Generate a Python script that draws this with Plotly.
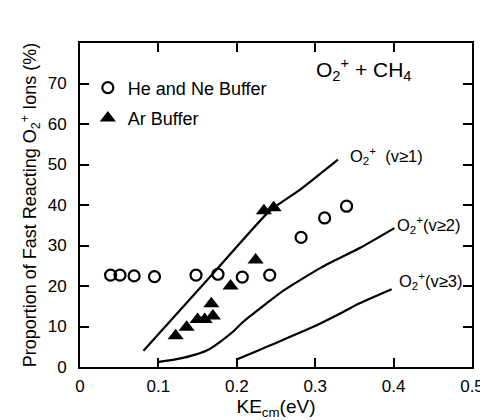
import plotly.graph_objects as go

# He and Ne buffer (open circles)
he_ne_x = [0.039, 0.051, 0.069, 0.095, 0.148, 0.176, 0.207, 0.242, 0.282, 0.312, 0.340]
he_ne_y = [22.7, 22.7, 22.5, 22.3, 22.7, 22.9, 22.2, 22.7, 32.0, 36.8, 39.7]

# Ar buffer (filled triangles)
ar_x = [0.122, 0.136, 0.150, 0.159, 0.1695, 0.1675, 0.192, 0.224, 0.2346, 0.247]
ar_y = [7.7, 9.8, 11.7, 11.7, 12.6, 15.6, 20.0, 26.4, 38.6, 39.3]

# Model curves
v1_x = [0.081, 0.172, 0.238, 0.252, 0.2795, 0.329]
v1_y = [4.0, 23.6, 37.8, 40.0, 43.6, 51.2]
v2_x = [0.099, 0.125, 0.147, 0.165, 0.180, 0.195, 0.209, 0.259, 0.308, 0.358, 0.401]
v2_y = [1.2, 2.0, 3.05, 4.4, 6.4, 8.7, 11.3, 18.8, 24.6, 29.5, 34.3]
v3_x = [0.199, 0.225, 0.250, 0.277, 0.304, 0.330, 0.354, 0.3975]
v3_y = [1.8, 3.9, 5.95, 8.2, 10.5, 13.0, 15.5, 19.2]

x_ticks = [0, 0.1, 0.2, 0.3, 0.4, 0.5]
x_tick_labels = ["0", "0.1", "0.2", "0.3", "0.4", "0.5"]
y_ticks = [0, 10, 20, 30, 40, 50, 60, 70]

FONT = "Liberation Sans, Arial, sans-serif"
O2P = "O<sub>2</sub><sup>+</sup>"

fig = go.Figure()
for cx, cy in [(v1_x, v1_y), (v2_x, v2_y), (v3_x, v3_y)]:
    fig.add_trace(go.Scatter(x=cx, y=cy, mode="lines", line=dict(color="black", width=2.2, shape="spline", smoothing=0.5),
                             showlegend=False, hoverinfo="skip"))
fig.add_trace(go.Scatter(x=he_ne_x, y=he_ne_y, mode="markers", name="He and Ne Buffer", legendgroup="a",
                         marker=dict(symbol="circle-open", size=11, color="black", line=dict(width=2.2, color="black"))))
fig.add_trace(go.Scatter(x=ar_x, y=ar_y, mode="markers", name="Ar Buffer", legendgroup="b",
                         marker=dict(symbol="triangle-up", size=14, color="black")))

annots = [
    dict(x=0.342, y=52.0, text=O2P + "  (v≥1)"),
    dict(x=0.402, y=35.0, text=O2P + "(v≥2)"),
    dict(x=0.404, y=21.3, text=O2P + "(v≥3)"),
]
for a in annots:
    fig.add_annotation(x=a["x"], y=a["y"], text=a["text"], showarrow=False, xanchor="left", yanchor="middle",
                       font=dict(family=FONT, size=16.5, color="black"))
fig.add_annotation(x=0.298, y=73.5, text=O2P + " + CH<sub>4</sub>", showarrow=False, xanchor="left",
                   yanchor="middle", font=dict(family=FONT, size=21, color="black"))

axis_common = dict(showline=True, linecolor="black", linewidth=2, mirror="ticks", ticks="inside",
                   ticklen=9, tickwidth=1.5, tickcolor="black", showgrid=False, zeroline=False,
                   tickfont=dict(family=FONT, size=17, color="black"))

fig.update_layout(
    width=488, height=420,
    margin=dict(l=72, r=13, t=35, b=61),
    paper_bgcolor="white", plot_bgcolor="white",
    font=dict(family=FONT, color="black"),
    xaxis=dict(range=[0, 0.5], tickvals=x_ticks, ticktext=x_tick_labels, ticklabelstandoff=3,
               title=dict(text="KE<sub>cm</sub>(eV)", font=dict(family=FONT, size=19), standoff=4),
               **axis_common),
    yaxis=dict(range=[0, 80], tickvals=y_ticks, ticklabelstandoff=8,
               title=dict(text="Proportion of Fast Reacting " + O2P + " Ions (%)", font=dict(family=FONT, size=18),
                          standoff=6),
               **axis_common),
    legend=dict(x=0.02, y=0.815, xanchor="left", yanchor="middle", bgcolor="rgba(0,0,0,0)",
                font=dict(family=FONT, size=18, color="black"), itemwidth=30, tracegroupgap=4),
)

fig.write_html("out.html")
